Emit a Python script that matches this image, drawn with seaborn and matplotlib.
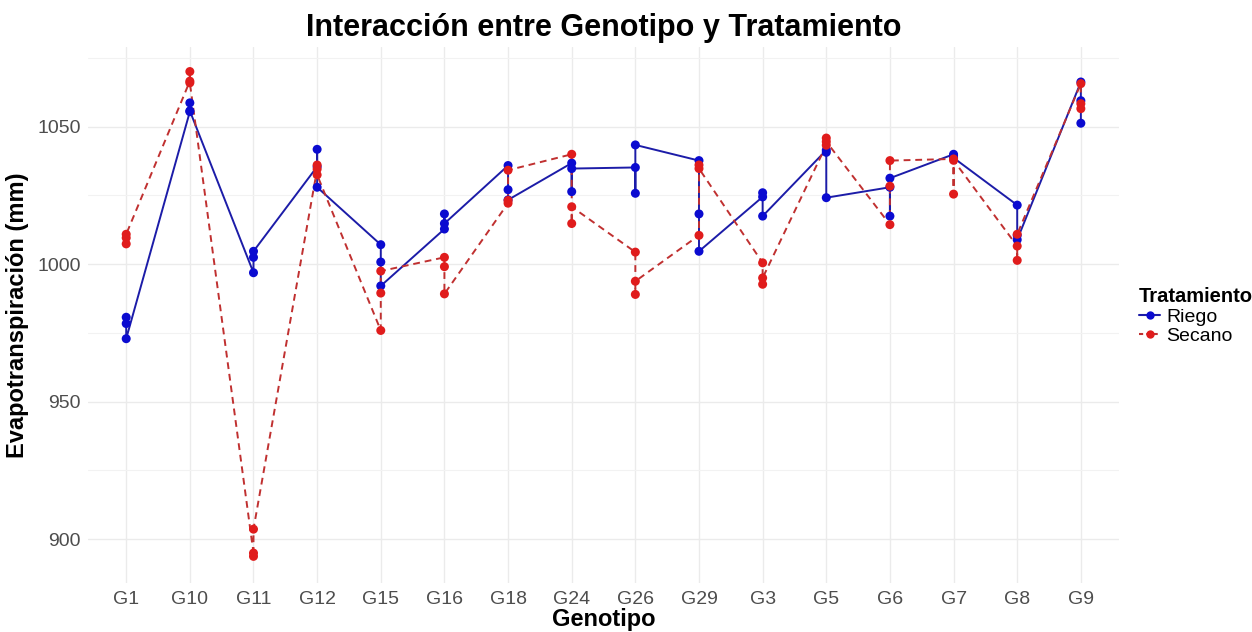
import matplotlib
matplotlib.use("Agg")
import matplotlib.pyplot as plt
from matplotlib.lines import Line2D
from matplotlib.ticker import MultipleLocator
import seaborn as sns
import pandas as pd

genotipos = ["G1", "G10", "G11", "G12", "G15", "G16", "G18", "G24",
             "G26", "G29", "G3", "G5", "G6", "G7", "G8", "G9"]

# three replicates per genotype, in data order (the lines follow this order)
riego = [
    [980.7, 978.4, 972.9],
    [1055.5, 1058.7, 1055.8],
    [996.9, 1002.5, 1004.7],
    [1035.5, 1041.8, 1028.0],
    [1007.1, 1000.8, 992.1],
    [1012.8, 1018.3, 1014.8],
    [1035.9, 1027.1, 1023.4],
    [1036.8, 1026.4, 1034.8],
    [1035.2, 1025.8, 1043.4],
    [1037.7, 1018.3, 1004.7],
    [1024.5, 1026.0, 1017.5],
    [1041.5, 1040.7, 1024.2],
    [1028.0, 1017.5, 1031.3],
    [1040.0, 1039.5, 1038.7],
    [1021.5, 1010.5, 1008.9],
    [1066.3, 1059.5, 1051.3],
]
secano = [
    [1007.4, 1009.6, 1010.9],
    [1066.6, 1070.1, 1066.0],
    [894.9, 893.7, 903.6],
    [1034.6, 1036.1, 1032.5],
    [975.9, 989.5, 997.5],
    [1002.5, 999.1, 989.2],
    [1022.2, 1023.2, 1034.2],
    [1040.0, 1014.8, 1020.9],
    [1004.4, 989.0, 993.8],
    [1010.5, 1036.1, 1034.8],
    [1000.5, 992.7, 995.0],
    [1043.3, 1045.9, 1044.6],
    [1014.4, 1028.4, 1037.7],
    [1038.3, 1025.5, 1037.8],
    [1006.6, 1001.4, 1010.9],
    [1065.7, 1058.4, 1056.6],
]
tratamientos = ["Riego", "Secano"]

rows = []
for trat, vals in zip(tratamientos, [riego, secano]):
    for g, reps in zip(genotipos, vals):
        for v in reps:
            rows.append({"Genotipo": g, "Tratamiento": trat, "ET": v})
df = pd.DataFrame(rows)
df["x"] = df["Genotipo"].map({g: i for i, g in enumerate(genotipos)})

line_cols = {"Riego": "#1c1ca8", "Secano": "#c03030"}
point_cols = {"Riego": "#0b0bd0", "Secano": "#e01c1c"}

sns.set_theme(style="whitegrid")
plt.rcParams["font.family"] = ["Liberation Sans", "DejaVu Sans"]

fig = plt.figure(figsize=(12.52, 6.32), dpi=100)
ax = fig.add_axes([0.0703, 0.0775, 0.8235, 0.848])

sns.lineplot(data=df, x="x", y="ET", hue="Tratamiento", style="Tratamiento",
             palette=line_cols, dashes={"Riego": "", "Secano": (3.5, 2.5)},
             sort=False, estimator=None, lw=1.4, legend=False, ax=ax)
sns.scatterplot(data=df, x="x", y="ET", hue="Tratamiento", palette=point_cols,
                s=42, linewidth=0, legend=False, ax=ax, zorder=3)

ax.set_xlim(-0.6, len(genotipos) - 0.4)
ax.set_ylim(884, 1079)
ax.set_xticks(range(len(genotipos)))
ax.set_xticklabels(genotipos)
ax.yaxis.set_major_locator(MultipleLocator(50))
ax.yaxis.set_minor_locator(MultipleLocator(25))
ax.grid(which="major", color="#ebebeb", lw=1.0)
ax.grid(which="minor", axis="y", color="#f2f2f2", lw=0.8)
ax.set_axisbelow(True)
for s in ax.spines.values():
    s.set_visible(False)
ax.tick_params(axis="both", which="both", length=0, labelsize=14,
               labelcolor="#4d4d4d")
ax.tick_params(axis="x", pad=6)
ax.tick_params(axis="y", pad=5)

ax.set_title("Interacción entre Genotipo y Tratamiento", fontsize=22,
             fontweight="bold", color="black", pad=8)
ax.set_xlabel("Genotipo", fontsize=17, fontweight="bold", color="black",
              labelpad=0)
ax.set_ylabel("Evapotranspiración (mm)", fontsize=17, fontweight="bold",
              color="black", labelpad=6)

handles = [
    Line2D([0], [0], color=line_cols["Riego"], lw=1.5, marker="o",
           markersize=6, markerfacecolor=point_cols["Riego"],
           markeredgewidth=0),
    Line2D([0], [0], color=line_cols["Secano"], lw=1.5, ls=(0, (2, 1.5)),
           marker="o", markersize=6, markerfacecolor=point_cols["Secano"],
           markeredgewidth=0),
]
leg = fig.legend(handles, tratamientos, title="Tratamiento", loc="center left",
                 bbox_to_anchor=(0.902, 0.5), frameon=False, fontsize=14,
                 title_fontsize=14.5, handlelength=1.1, handletextpad=0.3,
                 labelspacing=0.1, borderpad=0)
leg.get_title().set_fontweight("bold")
leg.get_title().set_color("black")
for t in leg.get_texts():
    t.set_color("black")
leg._legend_box.align = "left"

fig.savefig("out.png", dpi=100)
